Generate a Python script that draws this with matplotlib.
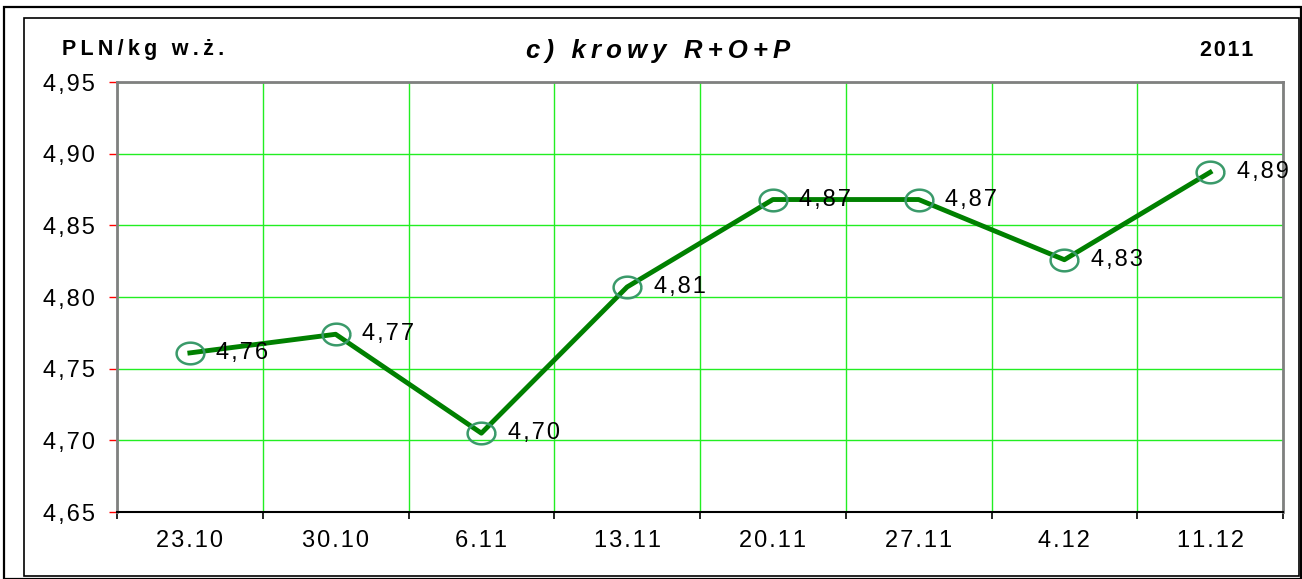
import numpy as np
import matplotlib
matplotlib.use("Agg")
import matplotlib.pyplot as plt
from matplotlib.path import Path
from matplotlib.patches import Rectangle

weeks = ["23.10", "30.10", "6.11", "13.11", "20.11", "27.11", "4.12", "11.12"]
prices = [4.761, 4.774, 4.705, 4.807, 4.868, 4.868, 4.826, 4.887]
labels = ["4,76", "4,77", "4,70", "4,81", "4,87", "4,87", "4,83", "4,89"]
yticks = [4.65, 4.70, 4.75, 4.80, 4.85, 4.90, 4.95]

plt.rcParams['font.family'] = ['Liberation Sans', 'DejaVu Sans']
HS = "\u200a"  # hair space, for numbers
TS = "\u2009"  # thin space, for the spaced-out headings


def spaced(s, sep=HS):
    return sep.join(s)


fig = plt.figure(figsize=(13.02, 5.79), dpi=100)
W, H = 1302, 579

# outer and inner chart frames
fig.patches.append(Rectangle((4 / W, 0), 1297 / W, 572 / H, transform=fig.transFigure,
                             fill=False, ec='black', lw=1.6))
fig.patches.append(Rectangle((24 / W, 3 / H), 1275 / W, 558 / H, transform=fig.transFigure,
                             fill=False, ec='black', lw=1.2))

ax = fig.add_axes([117 / W, 67 / H, 1166 / W, 430 / H])

x = np.arange(len(weeks)) + 0.5
t = np.linspace(0, 2 * np.pi, 60)
ell = Path(np.column_stack([np.cos(t), 0.78 * np.sin(t)]))

ax.plot(x, prices, color='#008000', lw=3.5, zorder=3)
ax.plot(x, prices, ls='none', marker=ell, ms=20, mfc='none', mec='#3a9a6a', mew=1.8, zorder=4)
for xi, yi, lab in zip(x, prices, labels):
    ax.annotate(spaced(lab), (xi, yi), xytext=(19, 0), textcoords='offset points',
                ha='left', va='center', fontsize=17, zorder=5)

ax.set_xlim(0, len(weeks))
ax.set_ylim(4.65, 4.95)

ax.set_xticks(np.arange(len(weeks) + 1))
ax.set_xticklabels([])
ax.set_xticks(x, minor=True)
ax.set_xticklabels([spaced(w) for w in weeks], minor=True, fontsize=17)
ax.tick_params(axis='x', which='major', direction='out', length=5, width=1.2, color='black')
ax.tick_params(axis='x', which='minor', length=0, pad=13)

ax.set_yticks(yticks)
ax.set_yticklabels([spaced(("%.2f" % v).replace('.', ',')) for v in yticks], fontsize=17)
ax.tick_params(axis='y', direction='out', length=6, width=1.0, color='red', pad=10)

ax.grid(True, which='major', color='#22ee22', lw=1.0, zorder=0)
ax.set_axisbelow(True)

for side in ['top', 'right', 'left']:
    ax.spines[side].set_color('#808080')
    ax.spines[side].set_linewidth(2.0)
ax.spines['bottom'].set_color('black')
ax.spines['bottom'].set_linewidth(1.5)

fig.text(62 / W, 1 - 50 / H, spaced("PLN/kg w.ż.", TS), fontsize=15.5, fontweight='bold',
         ha='left', va='center')
fig.text(658 / W, 1 - 51 / H, spaced("c) krowy R+O+P", TS), fontsize=18.5, fontweight='bold',
         style='italic', ha='center', va='center')
fig.text(1253 / W, 1 - 50 / H, spaced("2011"), fontsize=15.5, fontweight='bold',
         ha='right', va='center')

fig.savefig("out.png", dpi=100)
